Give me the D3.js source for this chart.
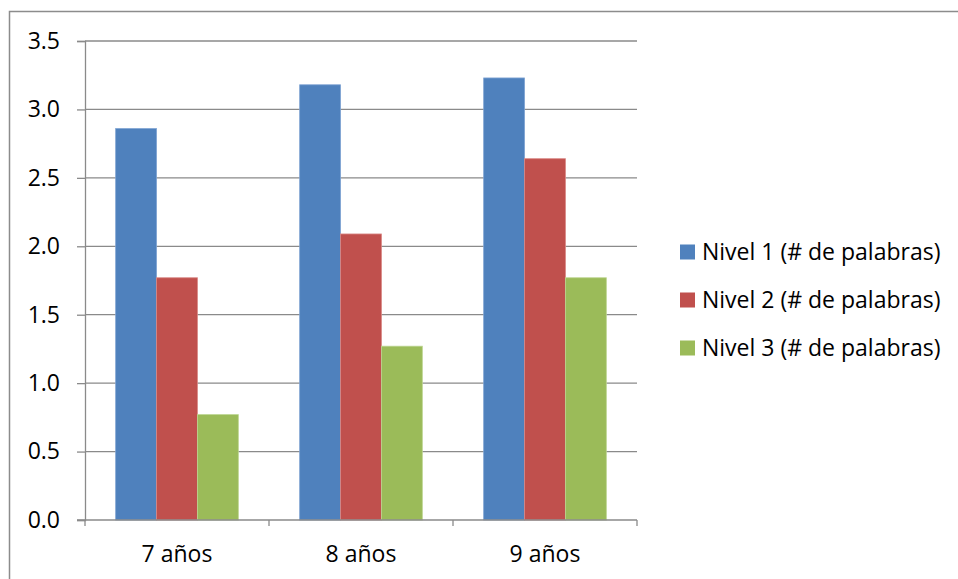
<!DOCTYPE html>
<html>
<head>
<meta charset="utf-8">
<script src="https://cdn.jsdelivr.net/npm/d3@7"></script>
<style>
  html, body { margin: 0; padding: 0; background: #fff; }
  svg text { font-family: "Open Sans", "Noto Sans", "Liberation Sans", sans-serif; fill: #000; }
</style>
</head>
<body>
<svg id="chart" width="958" height="579"></svg>
<script>
// Age groups on the x axis
const categories = ["7 años", "8 años", "9 años"];
// Series names shown in the legend
const seriesNames = ["Nivel 1 (# de palabras)", "Nivel 2 (# de palabras)", "Nivel 3 (# de palabras)"];
// Mean word counts per level, one value per age group
const nivel1 = [2.86, 3.18, 3.23];
const nivel2 = [1.77, 2.09, 2.64];
const nivel3 = [0.77, 1.27, 1.77];
// Y axis tick values
const yTicks = [0, 0.5, 1.0, 1.5, 2.0, 2.5, 3.0, 3.5];

const seriesValues = [nivel1, nivel2, nivel3];
const colors = ["#4f81bd", "#c0504d", "#9bbb59"];
const strokes = ["#7ea3d3", "#d98886", "#bcd58f"];
const fontSize = 23;

const svg = d3.select("#chart");

// Chart frame
svg.append("path")
  .attr("d", "M9.5,579 V11.5 H958")
  .attr("fill", "none")
  .attr("stroke", "#8c8c8c")
  .attr("stroke-width", 1.5);

const plot = { left: 85, right: 637, top: 41, bottom: 520 };

const x = d3.scaleBand()
  .domain(categories)
  .range([plot.left, plot.right])
  .paddingInner(0)
  .paddingOuter(0);

const groupWidthRatio = 1 / 1.5; // bars occupy 2/3 of each category slot
const x1 = d3.scaleBand()
  .domain(d3.range(seriesNames.length))
  .range([0, x.bandwidth() * groupWidthRatio]);

const y = d3.scaleLinear()
  .domain([0, 3.5])
  .range([plot.bottom, plot.top]);

// Horizontal gridlines
svg.append("g")
  .selectAll("line")
  .data(yTicks.filter(t => t > 0))
  .join("line")
  .attr("x1", plot.left)
  .attr("x2", plot.right)
  .attr("y1", d => y(d))
  .attr("y2", d => y(d))
  .attr("stroke", "#8a8a8a")
  .attr("stroke-width", 1.3);

// Bars
const offset = (x.bandwidth() - x.bandwidth() * groupWidthRatio) / 2;
seriesValues.forEach((vals, si) => {
  svg.append("g")
    .selectAll("rect")
    .data(vals)
    .join("rect")
    .attr("x", (d, i) => x(categories[i]) + offset + x1(si))
    .attr("y", d => y(d))
    .attr("width", x1.bandwidth())
    .attr("height", d => y(0) - y(d))
    .attr("fill", colors[si])
    .attr("stroke", strokes[si])
    .attr("stroke-width", 0.8);
});

// Y axis
const yAxis = d3.axisLeft(y)
  .tickValues(yTicks)
  .tickFormat(d3.format(".1f"))
  .tickSize(8)
  .tickPadding(17);
const yg = svg.append("g")
  .attr("transform", `translate(${plot.left},0)`)
  .call(yAxis);
yg.select(".domain").attr("stroke", "#8a8a8a").attr("stroke-width", 1.3);
yg.selectAll(".tick line").attr("stroke", "#8a8a8a").attr("stroke-width", 1.3);
yg.selectAll(".tick text").attr("font-size", fontSize).attr("fill", "#000");

// X axis
const xAxis = d3.axisBottom(x).tickSize(0).tickPadding(26);
const xg = svg.append("g")
  .attr("transform", `translate(0,${plot.bottom})`)
  .call(xAxis);
xg.select(".domain").remove();
xg.append("line")
  .attr("x1", plot.left - 8).attr("x2", plot.right)
  .attr("y1", 0).attr("y2", 0)
  .attr("stroke", "#8a8a8a").attr("stroke-width", 1.3);
xg.selectAll(".sep")
  .data(d3.range(categories.length + 1))
  .join("line")
  .attr("class", "sep")
  .attr("x1", i => plot.left + i * x.step())
  .attr("x2", i => plot.left + i * x.step())
  .attr("y1", 0).attr("y2", 6)
  .attr("stroke", "#8a8a8a").attr("stroke-width", 1.3);
xg.selectAll(".tick text").attr("font-size", fontSize).attr("fill", "#000");

// Legend
const legend = svg.append("g").attr("transform", "translate(680,252)");
const rows = legend.selectAll("g")
  .data(seriesNames)
  .join("g")
  .attr("transform", (d, i) => `translate(0,${i * 48})`);
rows.append("rect")
  .attr("x", 0).attr("y", -7.5)
  .attr("width", 15).attr("height", 15)
  .attr("fill", (d, i) => colors[i]);
rows.append("text")
  .attr("x", 22).attr("y", 0)
  .attr("dy", "0.35em")
  .attr("font-size", fontSize)
  .text(d => d);
</script>
</body>
</html>
